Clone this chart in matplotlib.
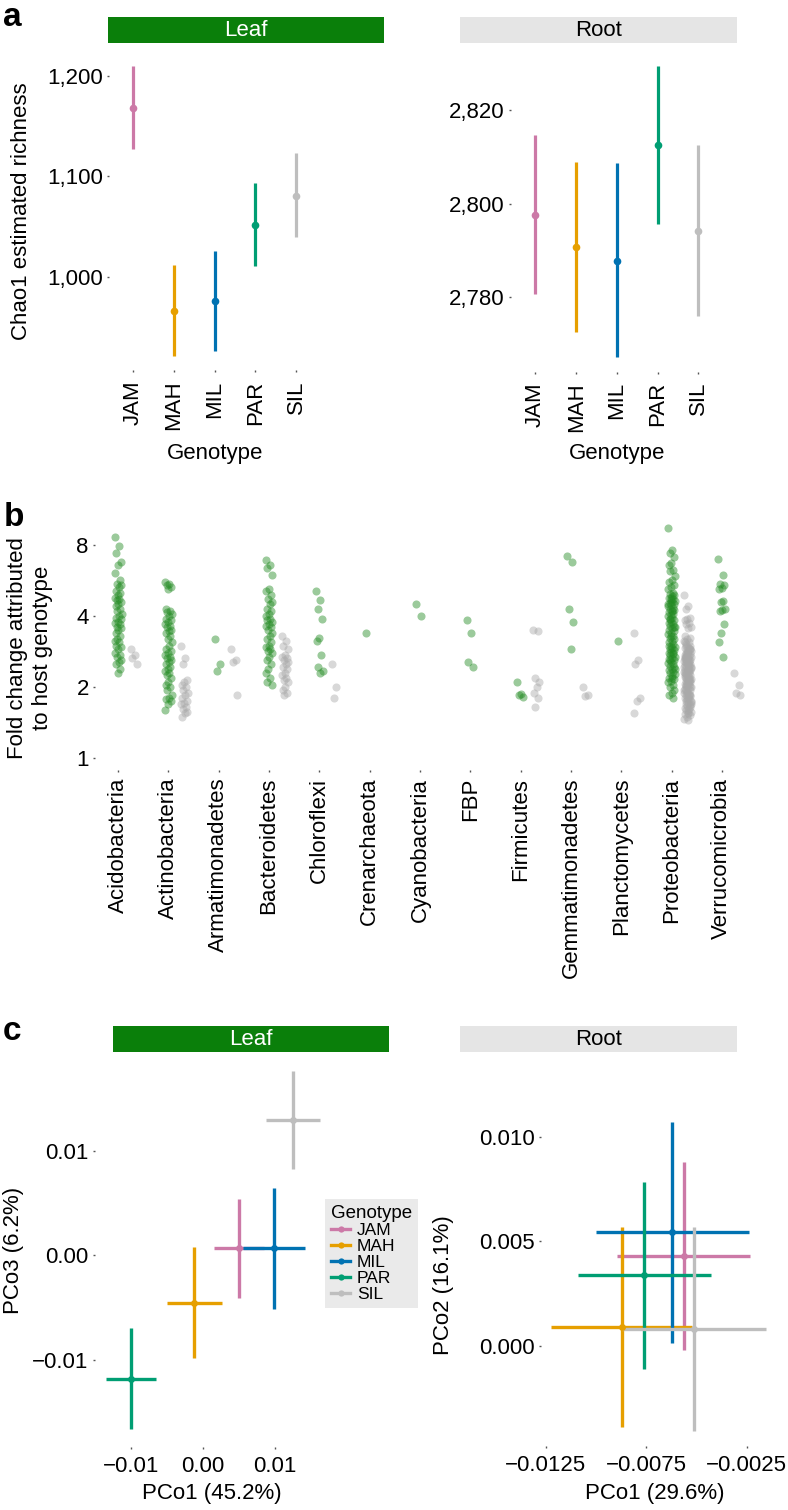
import matplotlib
matplotlib.use('Agg')
import matplotlib.pyplot as plt
from matplotlib.lines import Line2D
from matplotlib.patches import Rectangle
import numpy as np

plt.rcParams['font.family'] = ['Liberation Sans', 'DejaVu Sans']

# ---------------- data ----------------
genotypes = ['JAM', 'MAH', 'MIL', 'PAR', 'SIL']
geno_colors = ['#CC79A7', '#E69F00', '#0072B2', '#009E73', '#BEBEBE']

# panel a: Chao1 richness (mean, lower, upper)
leaf_chao_mean = [1168, 967, 977, 1052, 1081]
leaf_chao_lo = [1127, 922, 927, 1011, 1040]
leaf_chao_hi = [1209, 1012, 1026, 1093, 1123]
root_chao_mean = [2797.6, 2790.8, 2787.8, 2812.5, 2794.2]
root_chao_lo = [2780.6, 2772.6, 2767.2, 2795.7, 2776.0]
root_chao_hi = [2814.7, 2809.0, 2808.8, 2829.4, 2812.5]

# panel b: fold change per phylum (leaf = green, root = grey)
phyla = ['Acidobacteria', 'Actinobacteria', 'Armatimonadetes', 'Bacteroidetes',
         'Chloroflexi', 'Crenarchaeota', 'Cyanobacteria', 'FBP', 'Firmicutes',
         'Gemmatimonadetes', 'Planctomycetes', 'Proteobacteria', 'Verrucomicrobia']

acido_leaf = [8.7, 7.9, 7.4, 6.8, 6.6, 6.1, 5.7, 5.5, 5.4, 5.3, 5.1, 5.0, 4.9, 4.8, 4.75,
              4.7, 4.6, 4.5, 4.4, 4.3, 4.2, 4.1, 4.0, 3.95, 3.9, 3.8, 3.75, 3.7, 3.6, 3.55,
              3.5, 3.4, 3.3, 3.2, 3.15, 3.1, 3.0, 2.95, 2.9, 2.8, 2.75, 2.7, 2.6, 2.55, 2.5,
              2.4, 2.3]
acido_root = [2.9, 2.75, 2.65, 2.5]
actino_leaf = [5.6, 5.5, 5.4, 5.3, 5.2, 4.3, 4.2, 4.15, 4.1, 4.0, 3.9, 3.85, 3.8, 3.7, 3.65,
               3.6, 3.5, 3.45, 3.4, 3.3, 3.2, 3.1, 3.0, 2.9, 2.85, 2.8, 2.75, 2.7, 2.65, 2.6,
               2.55, 2.5, 2.45, 2.4, 2.35, 2.3, 2.25, 2.2, 2.1, 2.05, 2.0, 1.95, 1.85, 1.8,
               1.78, 1.75, 1.7, 1.6]
actino_root = [3.0, 2.65, 2.5, 2.15, 2.1, 2.05, 2.0, 1.95, 1.9, 1.85, 1.8, 1.75, 1.72, 1.7,
               1.65, 1.62, 1.58, 1.55, 1.5]
armat_leaf = [3.2, 2.5, 2.35]
armat_root = [2.9, 2.6, 2.55, 1.85]
bactero_leaf = [6.9, 6.6, 6.4, 6.0, 5.2, 5.1, 4.9, 4.75, 4.6, 4.5, 4.3, 4.2, 4.1, 4.0, 3.9,
                3.85, 3.8, 3.7, 3.65, 3.6, 3.5, 3.4, 3.3, 3.2, 3.1, 3.0, 2.95, 2.9, 2.85, 2.8,
                2.7, 2.6, 2.5, 2.4, 2.3, 2.2, 2.1, 2.05]
bactero_root = [3.3, 3.15, 3.0, 2.9, 2.75, 2.7, 2.65, 2.6, 2.55, 2.5, 2.45, 2.4, 2.3, 2.25,
                2.2, 2.15, 2.1, 2.0, 1.95, 1.9, 1.85]
chloro_leaf = [5.1, 4.7, 4.3, 3.9, 3.25, 3.15, 2.75, 2.45, 2.35, 2.3]
chloro_root = [2.5, 2.0, 1.8]
crena_leaf = [3.4]
crena_root = []
cyano_leaf = [4.5, 4.0]
cyano_root = []
fbp_leaf = [3.85, 3.4, 2.55, 2.45]
fbp_root = []
firmi_leaf = [2.1, 1.88, 1.85, 1.82]
firmi_root = [3.5, 3.45, 2.2, 2.1, 2.0, 1.9, 1.8, 1.65]
gemma_leaf = [7.2, 6.8, 4.3, 3.8, 2.9]
gemma_root = [2.0, 1.85, 1.83]
plancto_leaf = [3.15]
plancto_root = [3.4, 2.6, 2.5, 1.8, 1.75, 1.55]
proteo_leaf = [9.5, 7.6, 7.4, 7.1, 6.7, 6.6, 6.3, 6.2, 5.9, 5.7, 5.6, 5.4, 5.3, 5.2,
               5.0, 4.95, 4.9, 4.85, 4.8, 4.75, 4.7, 4.65, 4.6, 4.55, 4.5, 4.45, 4.4, 4.35,
               4.3, 4.25, 4.2, 4.15, 4.1, 4.05, 4.0, 3.95, 3.9, 3.85, 3.8, 3.75, 3.7, 3.65,
               3.6, 3.55, 3.5, 3.45, 3.4, 3.35, 3.3, 3.25, 3.2, 3.15, 3.1, 3.05, 3.0, 2.97,
               2.93, 2.9, 2.87, 2.83, 2.8, 2.77, 2.73, 2.7, 2.67, 2.63, 2.6, 2.57, 2.53, 2.5,
               2.47, 2.43, 2.4, 2.37, 2.33, 2.3, 2.27, 2.23, 2.2, 2.17, 2.13, 2.1, 2.05, 2.0,
               1.95, 1.9, 1.85, 1.8, 4.8, 4.5, 4.2, 3.9, 3.6, 3.3, 3.0, 2.8, 2.6, 2.4, 2.2]
proteo_root = [4.9, 4.4, 4.3, 3.95, 3.9, 3.85, 3.75, 3.7, 3.6, 3.55, 3.3, 3.25, 3.2, 3.15,
               3.1, 3.05, 3.0, 2.97, 2.94, 2.91, 2.88, 2.85, 2.82, 2.8, 2.78, 2.76, 2.74,
               2.72, 2.7, 2.68, 2.66, 2.64, 2.62, 2.6, 2.58, 2.56, 2.54, 2.52, 2.5, 2.48,
               2.46, 2.44, 2.42, 2.4, 2.38, 2.36, 2.34, 2.32, 2.3, 2.28, 2.26, 2.24, 2.22,
               2.2, 2.18, 2.16, 2.14, 2.12, 2.1, 2.08, 2.06, 2.04, 2.02, 2.0, 1.98, 1.96,
               1.94, 1.92, 1.9, 1.88, 1.86, 1.84, 1.82, 1.8, 1.78, 1.76, 1.74, 1.72, 1.7,
               1.68, 1.66, 1.64, 1.62, 1.6, 1.58, 1.56, 1.54, 1.52, 1.5, 1.47, 1.45, 3.0,
               2.9, 2.8, 2.7, 2.6, 2.55, 2.45, 2.35, 2.25, 2.15, 2.05, 1.95, 1.85, 1.75,
               1.65, 2.5, 2.3, 2.1, 1.9, 1.7, 2.4, 2.2, 2.0, 1.8, 2.65, 2.35, 2.05, 1.75,
               1.55, 3.1, 2.9, 2.7, 2.45, 2.15, 1.95, 1.85, 1.6]
verru_leaf = [7.0, 6.0, 5.5, 5.4, 5.25, 5.2, 4.65, 4.6, 4.3, 4.25, 4.2, 3.7, 3.4, 3.1, 2.7]
verru_root = [2.3, 2.05, 1.9, 1.85]

leaf_fc = [acido_leaf, actino_leaf, armat_leaf, bactero_leaf, chloro_leaf, crena_leaf,
           cyano_leaf, fbp_leaf, firmi_leaf, gemma_leaf, plancto_leaf, proteo_leaf, verru_leaf]
root_fc = [acido_root, actino_root, armat_root, bactero_root, chloro_root, crena_root,
           cyano_root, fbp_root, firmi_root, gemma_root, plancto_root, proteo_root, verru_root]
fc_ticks = [1, 2, 4, 8]

# panel c: PCoA centroids with spread
leaf_pco1 = [0.0050, -0.0012, 0.0099, -0.0100, 0.0125]
leaf_pco1_se = [0.0035, 0.0038, 0.0043, 0.0035, 0.0037]
leaf_pco3 = [0.00065, -0.00455, 0.00065, -0.0118, 0.0129]
leaf_pco3_se = [0.0047, 0.0053, 0.0058, 0.0048, 0.0047]
root_pco1 = [-0.00562, -0.00871, -0.00619, -0.00758, -0.00511]
root_pco1_se = [0.0033, 0.0035, 0.0038, 0.0033, 0.0036]
root_pco2 = [0.00429, 0.00091, 0.00544, 0.00337, 0.00081]
root_pco2_se = [0.0045, 0.0048, 0.0053, 0.0045, 0.0049]

# ---------------- layout helpers ----------------
W, H = 788, 1510
fig = plt.figure(figsize=(W / 100, H / 100), dpi=100)
FS = 16
TICKC = '#555555'


def pax(x0, y0, x1, y1):
    return fig.add_axes([x0 / W, 1 - y1 / H, (x1 - x0) / W, (y1 - y0) / H])


def style(ax, xpad=3, ypad=3):
    for s in ax.spines.values():
        s.set_visible(False)
    ax.patch.set_alpha(0)
    ax.tick_params(axis='both', length=1.5, width=1.0, color=TICKC, labelsize=FS)
    ax.tick_params(axis='x', pad=xpad)
    ax.tick_params(axis='y', pad=ypad)


def strip(x0, y0, x1, y1, text, fc, tc):
    a = pax(x0, y0, x1, y1)
    a.add_patch(Rectangle((0, 0), 1, 1, transform=a.transAxes, fc=fc, ec='none'))
    a.set_xticks([])
    a.set_yticks([])
    for s in a.spines.values():
        s.set_visible(False)
    a.text(0.5, 0.47, text, ha='center', va='center', color=tc, fontsize=FS,
           transform=a.transAxes)


def ftext(x, y, s, **kw):
    fig.text(x / W, 1 - y / H, s, **kw)


LEAF_GREEN = '#0A7F0A'
ROOT_GREY = '#E5E5E5'

# ---------------- panel a ----------------
ftext(3, 17, 'a', fontsize=24, fontweight='bold', ha='left', va='center')
strip(108, 17, 384, 43, 'Leaf', LEAF_GREEN, 'white')
strip(460, 17, 737, 43, 'Root', ROOT_GREY, 'black')

xs = np.arange(1, len(genotypes) + 1)
for box, means, los, his, ylim, yt, ytl in [
    ((108.9, 52, 320.6, 370), leaf_chao_mean, leaf_chao_lo, leaf_chao_hi,
     (908.2, 1223.3), [1000, 1100, 1200], ['1,000', '1,100', '1,200']),
    ((511, 52, 722.7, 371.5), root_chao_mean, root_chao_lo, root_chao_hi,
     (2764.1, 2832.5), [2780, 2800, 2820], ['2,780', '2,800', '2,820'])]:
    ax = pax(*box)
    style(ax, xpad=6, ypad=3)
    for i in range(len(genotypes)):
        ax.errorbar(xs[i], means[i], yerr=[[means[i] - los[i]], [his[i] - means[i]]],
                    fmt='o', color=geno_colors[i], ms=5.5, elinewidth=2.3,
                    capsize=1.6, capthick=2.3, mew=0)
    ax.set_xlim(0.4, 5.6)
    ax.set_ylim(*ylim)
    ax.set_xticks(xs)
    ax.set_xticklabels(genotypes, rotation=90, ha='center', va='top')
    ax.set_yticks(yt)
    ax.set_yticklabels(ytl)
    cx = (box[0] + box[2]) / 2
    ftext(cx, 453, 'Genotype', fontsize=FS, ha='center', va='center')

ftext(22, 211, 'Chao1 estimated richness', fontsize=FS, rotation=90,
      ha='center', va='center')

# ---------------- panel b ----------------
ftext(4, 517, 'b', fontsize=24, fontweight='bold', ha='left', va='center')
axb = pax(95, 516, 752, 770)
style(axb, xpad=4, ypad=3)
jit = 0.07
for i in range(len(phyla)):
    for vals, off, col in [(leaf_fc[i], 0.0, '#228B22'), (root_fc[i], 0.32, '#A9A9A9')]:
        if len(vals) == 0:
            continue
        k = np.arange(len(vals))
        xj = i + off + ((k * 0.618034) % 1 - 0.5) * 2 * jit
        axb.scatter(xj, vals, s=34, color=col, alpha=0.45, lw=0)
axb.set_yscale('log', base=2)
axb.set_ylim(2 ** -0.1625, 2 ** 3.41)
axb.set_yticks(fc_ticks)
axb.set_yticklabels([str(t) for t in fc_ticks])
axb.yaxis.set_minor_locator(matplotlib.ticker.NullLocator())
axb.set_xlim(-0.461, 12.6)
axb.set_xticks(np.arange(len(phyla)))
axb.set_xticklabels(phyla, rotation=90, ha='center', va='top')
ftext(30, 648, 'Fold change attributed\nto host genotype', fontsize=FS, rotation=90,
      ha='center', va='center', linespacing=1.2)

# ---------------- panel c ----------------
ftext(3, 1031, 'c', fontsize=24, fontweight='bold', ha='left', va='center')
strip(113, 1026, 389, 1052, 'Leaf', LEAF_GREEN, 'white')
strip(460, 1026, 737, 1052, 'Root', ROOT_GREY, 'black')

axl = pax(94.6, 1053, 330, 1446.5)
style(axl, xpad=5, ypad=3)
for i in range(len(genotypes)):
    axl.errorbar(leaf_pco1[i], leaf_pco3[i], xerr=leaf_pco1_se[i], yerr=leaf_pco3_se[i],
                 fmt='o', color=geno_colors[i], ms=5, elinewidth=2.4, capsize=0, mew=0)
axl.set_xlim(-0.01506, 0.01764)
axl.set_ylim(-0.01829, 0.01933)
axl.set_xticks([-0.01, 0.0, 0.01])
axl.set_xticklabels(['\u22120.01', '0.00', '0.01'])
axl.set_yticks([-0.01, 0.0, 0.01])
axl.set_yticklabels(['\u22120.01', '0.00', '0.01'])
ftext(212, 1493, 'PCo1 (45.2%)', fontsize=FS, ha='center', va='center')
ftext(14, 1250, 'PCo3 (6.2%)', fontsize=FS, rotation=90, ha='center', va='center')

axr = pax(540.9, 1106, 777.3, 1445.7)
style(axr, xpad=5, ypad=3)
for i in range(len(genotypes)):
    axr.errorbar(root_pco1[i], root_pco2[i], xerr=root_pco1_se[i], yerr=root_pco2_se[i],
                 fmt='o', color=geno_colors[i], ms=5, elinewidth=2.4, capsize=0, mew=0)
axr.set_xlim(-0.01273, -0.00097)
axr.set_ylim(-0.0048, 0.0115)
axr.set_xticks([-0.0125, -0.0075, -0.0025])
axr.set_xticklabels(['\u22120.0125', '\u22120.0075', '\u22120.0025'])
axr.set_yticks([0.0, 0.005, 0.010])
axr.set_yticklabels(['0.000', '0.005', '0.010'])
ftext(655, 1493, 'PCo1 (29.6%)', fontsize=FS, ha='center', va='center')
ftext(444, 1285, 'PCo2 (16.1%)', fontsize=FS, rotation=90, ha='center', va='center')

handles = [Line2D([0], [0], color=c, lw=2.4, marker='o', ms=4.5, mew=0) for c in geno_colors]
leg = fig.legend(handles, genotypes, title='Genotype', loc='upper left',
                 bbox_to_anchor=(325 / W, 1 - 1199 / H), frameon=True, fontsize=12.5,
                 title_fontsize=13.5, handlelength=1.1, handletextpad=0.4,
                 labelspacing=0.05, borderpad=0.35, borderaxespad=0)
leg.get_frame().set_facecolor('#E5E5E5')
leg.get_frame().set_edgecolor('none')
leg.get_frame().set_boxstyle('square', pad=0)
leg._legend_box.align = 'left'

fig.savefig('out.png', dpi=100)
